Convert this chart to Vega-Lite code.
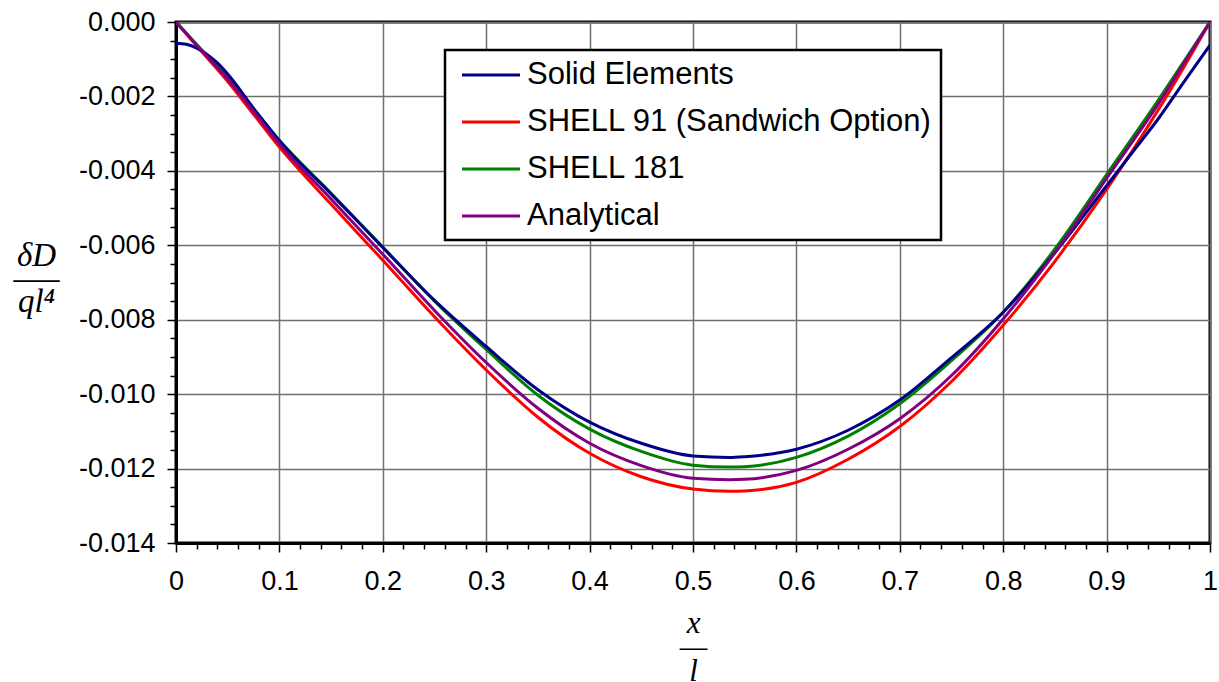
{
  "$schema": "https://vega.github.io/schema/vega-lite/v6.json",
  "width": 1034,
  "height": 521,
  "autosize": {"type": "none"},
  "padding": {"left": 176, "top": 22, "right": 9, "bottom": 139},
  "background": "white",
  "config": {
    "view": {"stroke": "black", "strokeWidth": 3},
    "axis": {
      "labelFont": "Liberation Sans",
      "labelColor": "black",
      "tickColor": "black",
      "domainColor": "black",
      "gridColor": "#707070",
      "titleColor": "black"
    }
  },
  "data": {
    "values": [
      {"series": "SHELL 91 (Sandwich Option)", "x": 0, "y": 0},
      {"series": "SHELL 91 (Sandwich Option)", "x": 0.025, "y": -0.0008},
      {"series": "SHELL 91 (Sandwich Option)", "x": 0.05, "y": -0.0016},
      {"series": "SHELL 91 (Sandwich Option)", "x": 0.075, "y": -0.00248},
      {"series": "SHELL 91 (Sandwich Option)", "x": 0.1, "y": -0.00336},
      {"series": "SHELL 91 (Sandwich Option)", "x": 0.15, "y": -0.0049},
      {"series": "SHELL 91 (Sandwich Option)", "x": 0.2, "y": -0.0064},
      {"series": "SHELL 91 (Sandwich Option)", "x": 0.25, "y": -0.00792},
      {"series": "SHELL 91 (Sandwich Option)", "x": 0.3, "y": -0.00935},
      {"series": "SHELL 91 (Sandwich Option)", "x": 0.35, "y": -0.01062},
      {"series": "SHELL 91 (Sandwich Option)", "x": 0.4, "y": -0.01159},
      {"series": "SHELL 91 (Sandwich Option)", "x": 0.45, "y": -0.01222},
      {"series": "SHELL 91 (Sandwich Option)", "x": 0.5, "y": -0.01255},
      {"series": "SHELL 91 (Sandwich Option)", "x": 0.535, "y": -0.01261},
      {"series": "SHELL 91 (Sandwich Option)", "x": 0.55, "y": -0.0126},
      {"series": "SHELL 91 (Sandwich Option)", "x": 0.6, "y": -0.01237},
      {"series": "SHELL 91 (Sandwich Option)", "x": 0.65, "y": -0.01175},
      {"series": "SHELL 91 (Sandwich Option)", "x": 0.7, "y": -0.01087},
      {"series": "SHELL 91 (Sandwich Option)", "x": 0.75, "y": -0.00966},
      {"series": "SHELL 91 (Sandwich Option)", "x": 0.8, "y": -0.00815},
      {"series": "SHELL 91 (Sandwich Option)", "x": 0.85, "y": -0.00643},
      {"series": "SHELL 91 (Sandwich Option)", "x": 0.9, "y": -0.0045},
      {"series": "SHELL 91 (Sandwich Option)", "x": 0.95, "y": -0.00236},
      {"series": "SHELL 91 (Sandwich Option)", "x": 0.975, "y": -0.0012},
      {"series": "SHELL 91 (Sandwich Option)", "x": 1, "y": 0},
      {"series": "SHELL 181", "x": 0, "y": 0},
      {"series": "SHELL 181", "x": 0.025, "y": -0.00075},
      {"series": "SHELL 181", "x": 0.05, "y": -0.00148},
      {"series": "SHELL 181", "x": 0.075, "y": -0.00233},
      {"series": "SHELL 181", "x": 0.1, "y": -0.00318},
      {"series": "SHELL 181", "x": 0.15, "y": -0.0046},
      {"series": "SHELL 181", "x": 0.2, "y": -0.00605},
      {"series": "SHELL 181", "x": 0.25, "y": -0.0075},
      {"series": "SHELL 181", "x": 0.3, "y": -0.0088},
      {"series": "SHELL 181", "x": 0.35, "y": -0.01003},
      {"series": "SHELL 181", "x": 0.4, "y": -0.01094},
      {"series": "SHELL 181", "x": 0.45, "y": -0.01154},
      {"series": "SHELL 181", "x": 0.5, "y": -0.01191},
      {"series": "SHELL 181", "x": 0.535, "y": -0.01196},
      {"series": "SHELL 181", "x": 0.55, "y": -0.01195},
      {"series": "SHELL 181", "x": 0.6, "y": -0.0117},
      {"series": "SHELL 181", "x": 0.65, "y": -0.01113},
      {"series": "SHELL 181", "x": 0.7, "y": -0.01026},
      {"series": "SHELL 181", "x": 0.75, "y": -0.0091},
      {"series": "SHELL 181", "x": 0.8, "y": -0.0078},
      {"series": "SHELL 181", "x": 0.85, "y": -0.0061},
      {"series": "SHELL 181", "x": 0.9, "y": -0.0041},
      {"series": "SHELL 181", "x": 0.95, "y": -0.0021},
      {"series": "SHELL 181", "x": 0.975, "y": -0.00105},
      {"series": "SHELL 181", "x": 1, "y": 0},
      {"series": "Solid Elements", "x": 0, "y": -0.00057},
      {"series": "Solid Elements", "x": 0.01, "y": -0.0006},
      {"series": "Solid Elements", "x": 0.02, "y": -0.0007},
      {"series": "Solid Elements", "x": 0.03, "y": -0.00087},
      {"series": "Solid Elements", "x": 0.04, "y": -0.0011},
      {"series": "Solid Elements", "x": 0.05, "y": -0.0014},
      {"series": "Solid Elements", "x": 0.075, "y": -0.00232},
      {"series": "Solid Elements", "x": 0.1, "y": -0.00319},
      {"series": "Solid Elements", "x": 0.15, "y": -0.00462},
      {"series": "Solid Elements", "x": 0.2, "y": -0.00606},
      {"series": "Solid Elements", "x": 0.25, "y": -0.00748},
      {"series": "Solid Elements", "x": 0.3, "y": -0.00872},
      {"series": "Solid Elements", "x": 0.35, "y": -0.00988},
      {"series": "Solid Elements", "x": 0.4, "y": -0.01075},
      {"series": "Solid Elements", "x": 0.45, "y": -0.01132},
      {"series": "Solid Elements", "x": 0.5, "y": -0.01166},
      {"series": "Solid Elements", "x": 0.535, "y": -0.0117},
      {"series": "Solid Elements", "x": 0.55, "y": -0.01168},
      {"series": "Solid Elements", "x": 0.6, "y": -0.01148},
      {"series": "Solid Elements", "x": 0.65, "y": -0.01097},
      {"series": "Solid Elements", "x": 0.7, "y": -0.01016},
      {"series": "Solid Elements", "x": 0.75, "y": -0.00902},
      {"series": "Solid Elements", "x": 0.8, "y": -0.0078},
      {"series": "Solid Elements", "x": 0.85, "y": -0.0062},
      {"series": "Solid Elements", "x": 0.9, "y": -0.0044},
      {"series": "Solid Elements", "x": 0.925, "y": -0.0035},
      {"series": "Solid Elements", "x": 0.95, "y": -0.0026},
      {"series": "Solid Elements", "x": 0.975, "y": -0.0016},
      {"series": "Solid Elements", "x": 1, "y": -0.00062},
      {"series": "Analytical", "x": 0, "y": 0},
      {"series": "Analytical", "x": 0.025, "y": -0.00078},
      {"series": "Analytical", "x": 0.05, "y": -0.00153},
      {"series": "Analytical", "x": 0.075, "y": -0.0024},
      {"series": "Analytical", "x": 0.1, "y": -0.00328},
      {"series": "Analytical", "x": 0.15, "y": -0.00476},
      {"series": "Analytical", "x": 0.2, "y": -0.00624},
      {"series": "Analytical", "x": 0.25, "y": -0.00775},
      {"series": "Analytical", "x": 0.3, "y": -0.00915},
      {"series": "Analytical", "x": 0.35, "y": -0.01038},
      {"series": "Analytical", "x": 0.4, "y": -0.01132},
      {"series": "Analytical", "x": 0.45, "y": -0.01192},
      {"series": "Analytical", "x": 0.5, "y": -0.01226},
      {"series": "Analytical", "x": 0.535, "y": -0.0123},
      {"series": "Analytical", "x": 0.55, "y": -0.01229},
      {"series": "Analytical", "x": 0.6, "y": -0.01205},
      {"series": "Analytical", "x": 0.65, "y": -0.01148},
      {"series": "Analytical", "x": 0.7, "y": -0.01066},
      {"series": "Analytical", "x": 0.75, "y": -0.0095},
      {"series": "Analytical", "x": 0.8, "y": -0.00798},
      {"series": "Analytical", "x": 0.85, "y": -0.0062},
      {"series": "Analytical", "x": 0.9, "y": -0.0042},
      {"series": "Analytical", "x": 0.95, "y": -0.0022},
      {"series": "Analytical", "x": 0.975, "y": -0.0011},
      {"series": "Analytical", "x": 1, "y": 0}
    ]
  },
  "layer": [
    {
      "mark": {"type": "line", "strokeWidth": 3, "interpolate": "monotone", "clip": true},
      "encoding": {
        "x": {
          "field": "x", "type": "quantitative",
          "scale": {"domain": [0, 1], "nice": false, "zero": false},
          "axis": {
            "orient": "bottom",
            "values": [0, 0.1, 0.2, 0.3, 0.4, 0.5, 0.6, 0.7, 0.8, 0.9, 1],
            "format": "~g",
            "grid": true, "gridWidth": 1.5,
            "tickSize": 9, "tickWidth": 1.5,
            "domainWidth": 3,
            "labelFontSize": 27, "labelPadding": 16, "labelFlush": false,
            "title": ["x", "—", "l"],
            "titleFont": "Liberation Serif", "titleFontStyle": "italic", "titleFontWeight": "normal",
            "titleFontSize": 31, "titleLineHeight": 24,
            "titleAlign": "center", "titleBaseline": "alphabetic",
            "titleX": 517, "titleY": 89
          }
        },
        "y": {
          "field": "y", "type": "quantitative",
          "scale": {"domain": [-0.014, 0], "nice": false, "zero": false},
          "axis": {
            "orient": "left",
            "values": [0, -0.002, -0.004, -0.006, -0.008, -0.01, -0.012, -0.014],
            "labelExpr": "replace(format(datum.value, '.3f'), '\u2212', '-')",
            "grid": true, "gridWidth": 1.5,
            "tickSize": 9, "tickWidth": 1.5,
            "domainWidth": 3,
            "labelFontSize": 27, "labelPadding": 12, "labelFlush": false,
            "title": ["δD", "—–", "ql⁴"],
            "titleFont": "Liberation Serif", "titleFontStyle": "italic", "titleFontWeight": "normal",
            "titleFontSize": 33, "titleLineHeight": 23, "titleAngle": 0,
            "titleAlign": "center", "titleBaseline": "middle",
            "titleX": -140, "titleY": 233
          }
        },
        "color": {
          "field": "series", "type": "nominal",
          "scale": {
            "domain": ["Solid Elements", "SHELL 91 (Sandwich Option)", "SHELL 181", "Analytical"],
            "range": ["#000088", "#ff0000", "#008000", "#800080"]
          },
          "legend": {
            "orient": "none", "legendX": 269, "legendY": 28,
            "title": null,
            "fillColor": "white", "strokeColor": "black",
            "padding": 9,
            "symbolType": "M-2,0H2", "symbolSize": 841, "symbolStrokeWidth": 3,
            "symbolOffset": 21,
            "labelFont": "Liberation Sans", "labelFontSize": 31, "labelColor": "black",
            "labelOffset": 20, "rowPadding": 16, "labelLimit": 0,
            "encode": {"legend": {"update": {"strokeWidth": {"value": 2.5}}}}
          }
        }
      }
    },
    {
      "mark": {"type": "line", "opacity": 0},
      "encoding": {
        "x": {
          "field": "x", "type": "quantitative",
          "scale": {"domain": [0, 1], "nice": false, "zero": false},
          "axis": {
            "orient": "bottom",
            "values": [0.02, 0.04, 0.06, 0.08, 0.12, 0.14, 0.16, 0.18, 0.22, 0.24, 0.26, 0.28, 0.32, 0.34, 0.36, 0.38, 0.42, 0.44, 0.46, 0.48, 0.52, 0.54, 0.56, 0.58, 0.62, 0.64, 0.66, 0.68, 0.72, 0.74, 0.76, 0.78, 0.82, 0.84, 0.86, 0.88, 0.92, 0.94, 0.96, 0.98],
            "labels": false, "grid": false, "domain": false,
            "tickSize": 6, "tickWidth": 1.5, "title": null
          }
        },
        "y": {
          "field": "y", "type": "quantitative",
          "scale": {"domain": [-0.014, 0], "nice": false, "zero": false},
          "axis": {
            "orient": "left",
            "values": [-0.0005, -0.001, -0.0015, -0.0025, -0.003, -0.0035, -0.0045, -0.005, -0.0055, -0.0065, -0.007, -0.0075, -0.0085, -0.009, -0.0095, -0.0105, -0.011, -0.0115, -0.0125, -0.013, -0.0135],
            "labels": false, "grid": false, "domain": false,
            "tickSize": 6, "tickWidth": 1.5, "title": null
          }
        },
        "detail": {"field": "series"}
      }
    }
  ],
  "resolve": {"axis": {"x": "independent", "y": "independent"}}
}
